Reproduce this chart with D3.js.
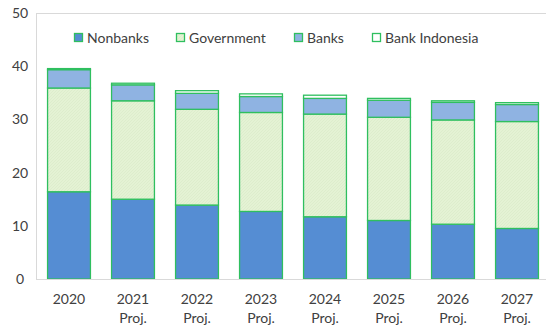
<!DOCTYPE html>
<html><head><meta charset="utf-8">
<script src="https://cdn.jsdelivr.net/npm/d3@7"></script>
<style>body{margin:0;background:#fff}svg{display:block}</style>
</head><body>
<svg id="c" width="546" height="332"></svg>
<script>
const categories = ["2020","2021 Proj.","2022 Proj.","2023 Proj.","2024 Proj.","2025 Proj.","2026 Proj.","2027 Proj."];
const nonbanks = [16.4, 15.0, 13.9, 12.7, 11.7, 11.0, 10.3, 9.5];
const government = [19.5, 18.5, 18.0, 18.6, 19.3, 19.4, 19.6, 20.1];
const banks = [3.45, 3.0, 3.0, 3.0, 2.95, 3.2, 3.3, 3.2];
const bankIndonesia = [0.2, 0.3, 0.5, 0.5, 0.6, 0.35, 0.3, 0.35];
const seriesNames = ["Nonbanks","Government","Banks","Bank Indonesia"];
const yTicks = [0,10,20,30,40,50];

(function(){
const fills = {"Nonbanks":"#558dd3","Government":"url(#hatch)","Banks":"#8fb3e2","Bank Indonesia":"#ffffff"};
const stroke = "#2fbf5f";

const svg = d3.select("#c");
const defs = svg.append("defs");
const pat = defs.append("pattern").attr("id","hatch").attr("patternUnits","userSpaceOnUse").attr("width",3).attr("height",3);
pat.append("rect").attr("width",3).attr("height",3).attr("fill","#e4f2d4");
pat.append("path").attr("d","M0,3 L3,0").attr("stroke","#d8eac6").attr("stroke-width",0.6);

const mLeft = 36, mTop = 13, mBottom = 279;
const x = d3.scaleBand().domain(categories).range([37, 549]).paddingInner(0.33).paddingOuter(0.165);
const y = d3.scaleLinear().domain([0,50]).range([mBottom, mTop]);

const data = categories.map((c,i)=>({cat:c, "Nonbanks":nonbanks[i], "Government":government[i], "Banks":banks[i], "Bank Indonesia":bankIndonesia[i]}));
const stacked = d3.stack().keys(seriesNames)(data);

svg.append("line").attr("x1",mLeft).attr("x2",546).attr("y1",mTop+0.5).attr("y2",mTop+0.5).attr("stroke","#d9d9d9");
svg.append("line").attr("x1",mLeft+0.5).attr("x2",mLeft+0.5).attr("y1",mTop).attr("y2",mBottom).attr("stroke","#d9d9d9");

svg.append("g").selectAll("text").data(yTicks).join("text")
  .attr("x",20).attr("y",d=>y(d)).attr("dy","0.35em").attr("text-anchor","middle")
  .attr("font-family","Lato, 'Open Sans', sans-serif").attr("font-size",14).attr("fill","#404040")
  .text(d=>d);

stacked.forEach(s=>{
  svg.append("g").selectAll("rect").data(s).join("rect")
    .attr("x",d=>x(d.data.cat)).attr("width",x.bandwidth())
    .attr("y",d=>y(d[1])).attr("height",d=>y(d[0])-y(d[1]))
    .attr("fill", fills[s.key]).attr("stroke",stroke).attr("stroke-width",1.3);
});

svg.append("line").attr("x1",mLeft).attr("x2",546).attr("y1",mBottom+0.5).attr("y2",mBottom+0.5).attr("stroke","#d9d9d9");

const xl = svg.append("g").selectAll("text").data(categories).join("text")
  .attr("text-anchor","middle")
  .attr("font-family","Lato, 'Open Sans', sans-serif").attr("font-size",14).attr("fill","#404040");
xl.each(function(d){
  const parts = d.split(" ");
  const t = d3.select(this);
  parts.forEach((p,j)=>{
    t.append("tspan").attr("x", x(d)+x.bandwidth()/2).attr("y", 304 + j*19).text(p);
  });
});

const legX = [74, 176, 294, 372];
const lg = svg.append("g").selectAll("g").data(seriesNames).join("g")
  .attr("transform",(d,i)=>`translate(${legX[i]},38)`);
lg.append("rect").attr("x",0.5).attr("y",-4.5).attr("width",8).attr("height",8)
  .attr("fill",d=>fills[d]).attr("stroke",stroke).attr("stroke-width",1.3);
lg.append("text").attr("x",13).attr("y",0).attr("dy","0.35em")
  .attr("font-family","Lato, 'Open Sans', sans-serif").attr("font-size",14).attr("fill","#404040")
  .text(d=>d);
})();
</script>
</body></html>
